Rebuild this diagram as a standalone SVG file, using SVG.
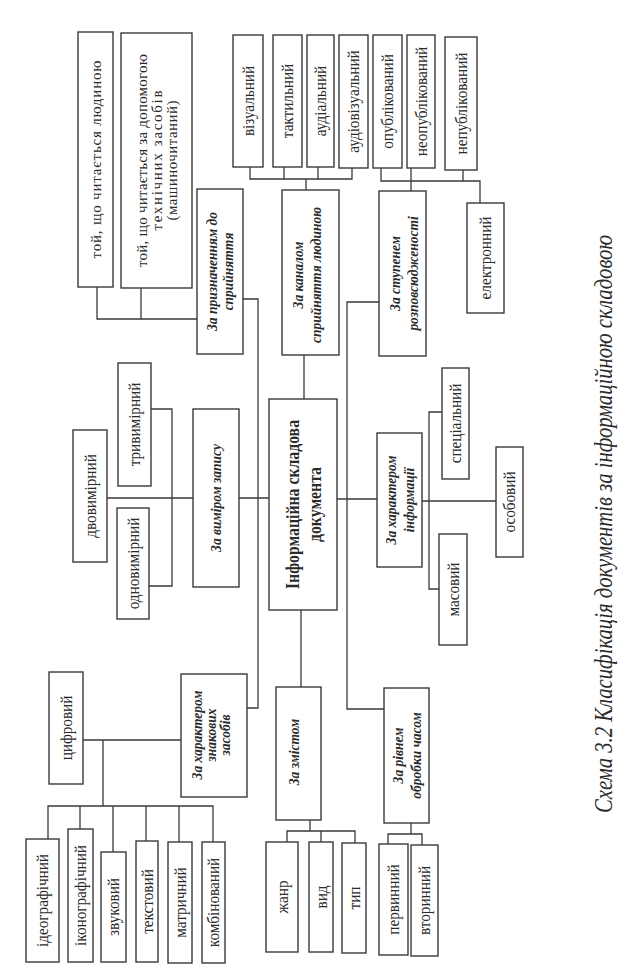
<svg xmlns="http://www.w3.org/2000/svg" width="641" height="975" viewBox="0 0 641 975">
<style>
.b{fill:#fff;stroke:#3a3a3a;stroke-width:1.4}
.c{fill:none;stroke:#3a3a3a;stroke-width:1.3}
.t{font-family:"Liberation Serif","DejaVu Serif",serif;font-size:16px;fill:#2a2a2a;text-anchor:middle;dominant-baseline:central}
.k{font-style:italic;font-weight:bold;font-size:15px}
.m{font-weight:bold;font-size:19px}
</style>
<rect width="641" height="975" fill="#fff"/>
<g id="connectors">
<path class="c" d="M97 287V319H197M141 288V319"/>
<path class="c" d="M250 167V179H352V168M284 167V179M318 167V179M306 179V190"/>
<path class="c" d="M381 168V181H480V203M411 168V191M463 170V181"/>
<path class="c" d="M243 299H258V708H247"/>
<path class="c" d="M379 302H347V709H384"/>
<path class="c" d="M269 498H239M304 355V399M301 610V687M337 499H377"/>
<path class="c" d="M193 498H107M151 409H172V586H149"/>
<path class="c" d="M422 501H496M442 412H429V589H439"/>
<path class="c" d="M411 823V834M388 844V834H422V845"/>
<path class="c" d="M310 820V831M287 842V831H355V843M321 831V842"/>
<path class="c" d="M181 740H83M103 740V806M48 839V806H213V842M80 806V829M113 806V852M146 806V841M179 806V842"/>
</g>
<g id="n-human"><rect class="b" x="78" y="32" width="35" height="255"/><text class="t" style="font-size:15px" transform="translate(96,159.5) rotate(-90)" textLength="198">той, що читається людиною</text></g>
<g id="n-machine"><rect class="b" x="121" y="33" width="71" height="255"/><text class="t" style="font-size:15px" transform="translate(156.5,160.5) rotate(-90)"><tspan x="0" y="-15" textLength="213">той, що читається за допомогою</tspan><tspan x="0" y="0" textLength="140">технічних засобів</tspan><tspan x="0" y="15" textLength="120">(машиночитаний)</tspan></text></g>
<g id="n-purpose"><rect class="b" x="197" y="189" width="46" height="165"/><text class="t k" transform="translate(220,271.5) rotate(-90) scale(0.9,1)"><tspan x="0" y="-8">За призначенням до</tspan><tspan x="0" y="8">сприйняття</tspan></text></g>
<g id="n-channel"><rect class="b" x="282" y="190" width="57" height="165"/><text class="t k" transform="translate(307,275) rotate(-90) scale(0.9,1)"><tspan x="0" y="-9">За каналом</tspan><tspan x="0" y="9">сприйняття людиною</tspan></text></g>
<g id="n-spread"><rect class="b" x="379" y="191" width="47" height="165"/><text class="t k" transform="translate(404,273.5) rotate(-90) scale(0.9,1)"><tspan x="0" y="-9">За ступенем</tspan><tspan x="0" y="9">розповсюдженості</tspan></text></g>
<g id="n-visual"><rect class="b" x="233" y="35" width="30" height="132"/><text class="t" transform="translate(248,101) rotate(-90) scale(0.95,1)">візуальний</text></g>
<g id="n-tactile"><rect class="b" x="273" y="35" width="29" height="132"/><text class="t" transform="translate(287.5,101) rotate(-90) scale(0.95,1)">тактильний</text></g>
<g id="n-audial"><rect class="b" x="307" y="35" width="27" height="132"/><text class="t" transform="translate(320.5,101) rotate(-90) scale(0.95,1)">аудіальний</text></g>
<g id="n-audiovisual"><rect class="b" x="339" y="35" width="29" height="133"/><text class="t" transform="translate(353.5,101.5) rotate(-90) scale(0.95,1)">аудіовізуальний</text></g>
<g id="n-published"><rect class="b" x="373" y="35" width="29" height="133"/><text class="t" transform="translate(387.5,101.5) rotate(-90) scale(0.95,1)">опублікований</text></g>
<g id="n-unpublished"><rect class="b" x="407" y="35" width="28" height="133"/><text class="t" transform="translate(421,101.5) rotate(-90) scale(0.95,1)">неопублікований</text></g>
<g id="n-nonpublished"><rect class="b" x="445" y="37" width="32" height="133"/><text class="t" transform="translate(461,103.5) rotate(-90) scale(0.95,1)">непублікований</text></g>
<g id="n-electronic"><rect class="b" x="467" y="203" width="37" height="110"/><text class="t" transform="translate(485.5,258) rotate(-90) scale(0.95,1)">електронний</text></g>
<g id="n-measure"><rect class="b" x="193" y="409" width="46" height="178"/><text class="t k" transform="translate(216,498) rotate(-90) scale(0.9,1)">За виміром запису</text></g>
<g id="n-2d"><rect class="b" x="73" y="430" width="34" height="132"/><text class="t" transform="translate(90,496) rotate(-90) scale(0.95,1)">двовимірний</text></g>
<g id="n-3d"><rect class="b" x="118" y="363" width="33" height="123"/><text class="t" transform="translate(134.5,424.5) rotate(-90) scale(0.95,1)">тривимірний</text></g>
<g id="n-1d"><rect class="b" x="117" y="508" width="32" height="111"/><text class="t" transform="translate(133,563.5) rotate(-90) scale(0.95,1)">одновимірний</text></g>
<g id="n-center"><rect class="b" x="269" y="399" width="68" height="211"/><text class="t m" transform="translate(303,504.5) rotate(-90) scale(0.83,1)"><tspan x="0" y="-11">Інформаційна складова</tspan><tspan x="0" y="11">документа</tspan></text></g>
<g id="n-infochar"><rect class="b" x="377" y="433" width="45" height="134"/><text class="t k" transform="translate(400,500) rotate(-90) scale(0.9,1)"><tspan x="0" y="-9">За характером</tspan><tspan x="0" y="9">інформації</tspan></text></g>
<g id="n-special"><rect class="b" x="442" y="368" width="27" height="111"/><text class="t" transform="translate(455.5,423.5) rotate(-90) scale(0.95,1)">спеціальний</text></g>
<g id="n-personal"><rect class="b" x="496" y="447" width="27" height="110"/><text class="t" transform="translate(509.5,502) rotate(-90) scale(0.95,1)">особовий</text></g>
<g id="n-mass"><rect class="b" x="439" y="534" width="28" height="111"/><text class="t" transform="translate(453,589.5) rotate(-90) scale(0.95,1)">масовий</text></g>
<g id="n-content"><rect class="b" x="276" y="687" width="45" height="133"/><text class="t k" transform="translate(294,752) rotate(-90) scale(0.9,1)">За змістом</text></g>
<g id="n-genre"><rect class="b" x="266" y="842" width="32" height="110"/><text class="t" transform="translate(282,897) rotate(-90) scale(0.95,1)">жанр</text></g>
<g id="n-kind"><rect class="b" x="309" y="842" width="24" height="110"/><text class="t" transform="translate(321,897) rotate(-90) scale(0.95,1)">вид</text></g>
<g id="n-type"><rect class="b" x="342" y="843" width="24" height="110"/><text class="t" transform="translate(354,898) rotate(-90) scale(0.95,1)">тип</text></g>
<g id="n-processing"><rect class="b" x="384" y="688" width="45" height="135"/><text class="t k" transform="translate(406.5,755.5) rotate(-90) scale(0.9,1)"><tspan x="0" y="-9">За рівнем</tspan><tspan x="0" y="9">обробки часом</tspan></text></g>
<g id="n-primary"><rect class="b" x="379" y="844" width="29" height="111"/><text class="t" transform="translate(393.5,899.5) rotate(-90) scale(0.95,1)">первинний</text></g>
<g id="n-secondary"><rect class="b" x="411" y="845" width="27" height="111"/><text class="t" transform="translate(424.5,900.5) rotate(-90) scale(0.95,1)">вторинний</text></g>
<g id="n-signs"><rect class="b" x="181" y="674" width="66" height="123"/><text class="t k" transform="translate(211,735) rotate(-90) scale(0.9,1)"><tspan x="0" y="-14">За характером</tspan><tspan x="0" y="0">знакових</tspan><tspan x="0" y="14">засобів</tspan></text></g>
<g id="n-digital"><rect class="b" x="49" y="672" width="34" height="112"/><text class="t" transform="translate(66,728) rotate(-90) scale(0.95,1)">цифровий</text></g>
<g id="n-ideo"><rect class="b" x="26" y="839" width="33" height="123"/><text class="t" transform="translate(42.5,900.5) rotate(-90) scale(0.95,1)">ідеографічний</text></g>
<g id="n-icono"><rect class="b" x="68" y="829" width="25" height="133"/><text class="t" transform="translate(80.5,895.5) rotate(-90) scale(0.95,1)">іконографічний</text></g>
<g id="n-sound"><rect class="b" x="101" y="852" width="25" height="110"/><text class="t" transform="translate(113.5,907) rotate(-90) scale(0.95,1)">звуковий</text></g>
<g id="n-text"><rect class="b" x="136" y="841" width="22" height="121"/><text class="t" transform="translate(147,901.5) rotate(-90) scale(0.95,1)">текстовий</text></g>
<g id="n-matrix"><rect class="b" x="168" y="842" width="24" height="121"/><text class="t" transform="translate(180,902.5) rotate(-90) scale(0.95,1)">матричний</text></g>
<g id="n-combined"><rect class="b" x="202" y="842" width="23" height="121"/><text class="t" transform="translate(213.5,902.5) rotate(-90) scale(0.95,1)">комбінований</text></g>
<text class="t" style="font-style:italic;font-size:25px" transform="translate(603,524) rotate(-90)" textLength="578" lengthAdjust="spacingAndGlyphs">Схема 3.2 Класифікація документів за інформаційною складовою</text>
</svg>
